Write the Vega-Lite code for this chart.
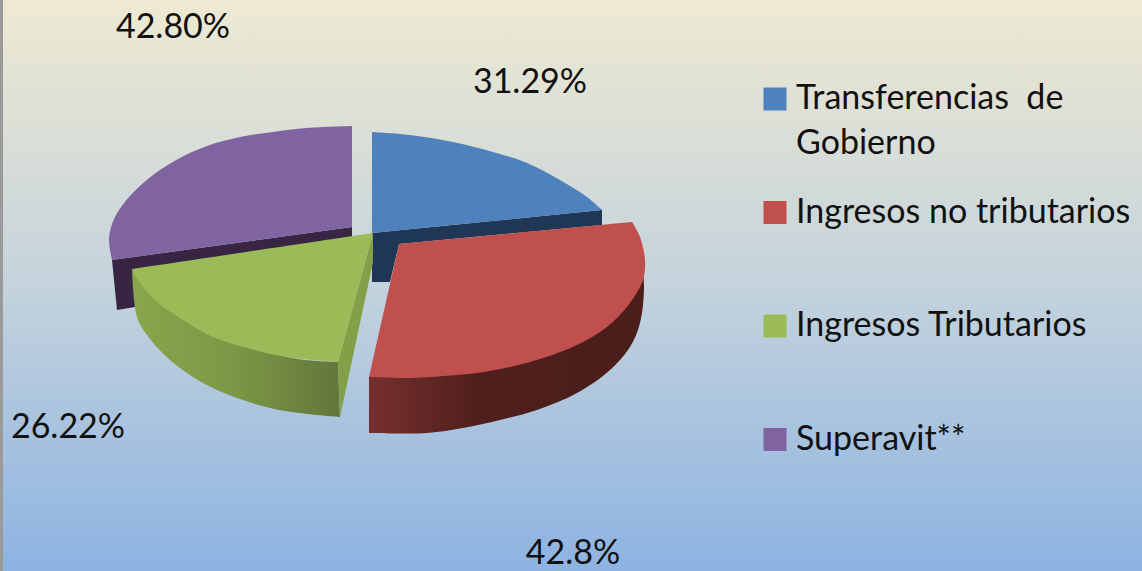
{
"$schema":"https://vega.github.io/schema/vega-lite/v6.json",
"width":1142,"height":571,"padding":0,"autosize":{"type":"none"},
"background":"#cfdbe0",
"config":{"view":{"stroke":null}},
"datasets":{
"page":[{"x":0,"x2":1142,"y":0,"y2":571}],
"edge":[{"x":1.5,"y":0,"y2":571}],
"blueSide":[{"seq":1,"x":602,"y":210},{"seq":2,"x":602,"y":225},{"seq":3,"x":399,"y":244},{"seq":4,"x":390,"y":282},{"seq":5,"x":372,"y":282},{"seq":6,"x":372,"y":233}],
"blueTop":[{"category":"Transferencias de Gobierno","seq":1,"x":372,"y":233},{"category":"Transferencias de Gobierno","seq":2,"x":372,"y":132},{"category":"Transferencias de Gobierno","seq":3,"x":372,"y":132},{"category":"Transferencias de Gobierno","seq":4,"x":410,"y":135},{"category":"Transferencias de Gobierno","seq":5,"x":453,"y":142},{"category":"Transferencias de Gobierno","seq":6,"x":493,"y":152},{"category":"Transferencias de Gobierno","seq":7,"x":527,"y":163},{"category":"Transferencias de Gobierno","seq":8,"x":560,"y":180},{"category":"Transferencias de Gobierno","seq":9,"x":587,"y":197},{"category":"Transferencias de Gobierno","seq":10,"x":602,"y":210}],
"purpleSide":[{"seq":1,"x":352,"y":227},{"seq":2,"x":352,"y":240},{"seq":3,"x":135,"y":272},{"seq":4,"x":135,"y":307},{"seq":5,"x":117,"y":310},{"seq":6,"x":112,"y":260}],
"purpleTop":[{"category":"Superavit**","seq":1,"x":352,"y":227},{"category":"Superavit**","seq":2,"x":352,"y":126},{"category":"Superavit**","seq":3,"x":352,"y":126},{"category":"Superavit**","seq":4,"x":307,"y":128},{"category":"Superavit**","seq":5,"x":273,"y":132},{"category":"Superavit**","seq":6,"x":240,"y":137},{"category":"Superavit**","seq":7,"x":207,"y":146},{"category":"Superavit**","seq":8,"x":180,"y":158},{"category":"Superavit**","seq":9,"x":153,"y":175},{"category":"Superavit**","seq":10,"x":130,"y":196},{"category":"Superavit**","seq":11,"x":115,"y":217},{"category":"Superavit**","seq":12,"x":109,"y":238},{"category":"Superavit**","seq":13,"x":112,"y":260}],
"greenOuter":[{"seq":1,"x":132,"y":269},{"seq":2,"x":137,"y":317},{"seq":3,"x":147,"y":335},{"seq":4,"x":170,"y":360},{"seq":5,"x":203,"y":383},{"seq":6,"x":237,"y":398},{"seq":7,"x":270,"y":408},{"seq":8,"x":307,"y":414},{"seq":9,"x":340,"y":417},{"seq":10,"x":340,"y":417},{"seq":11,"x":338,"y":362},{"seq":12,"x":338,"y":362},{"seq":13,"x":287,"y":357},{"seq":14,"x":180,"y":318}],
"greenInner":[{"seq":1,"x":373,"y":233},{"seq":2,"x":373,"y":262},{"seq":3,"x":340,"y":417},{"seq":4,"x":338,"y":362}],
"greenTop":[{"category":"Ingresos Tributarios","seq":1,"x":373,"y":233},{"category":"Ingresos Tributarios","seq":2,"x":132,"y":269},{"category":"Ingresos Tributarios","seq":3,"x":132,"y":269},{"category":"Ingresos Tributarios","seq":4,"x":140,"y":283},{"category":"Ingresos Tributarios","seq":5,"x":157,"y":302},{"category":"Ingresos Tributarios","seq":6,"x":180,"y":318},{"category":"Ingresos Tributarios","seq":7,"x":213,"y":337},{"category":"Ingresos Tributarios","seq":8,"x":247,"y":348},{"category":"Ingresos Tributarios","seq":9,"x":287,"y":357},{"category":"Ingresos Tributarios","seq":10,"x":338,"y":362}],
"redSide":[{"seq":1,"x":369,"y":377},{"seq":2,"x":369,"y":433},{"seq":3,"x":369,"y":433},{"seq":4,"x":427,"y":433},{"seq":5,"x":463,"y":428},{"seq":6,"x":500,"y":420},{"seq":7,"x":537,"y":410},{"seq":8,"x":577,"y":393},{"seq":9,"x":610,"y":370},{"seq":10,"x":630,"y":347},{"seq":11,"x":640,"y":323},{"seq":12,"x":644,"y":290},{"seq":13,"x":643,"y":270}],
"redTop":[{"category":"Ingresos no tributarios","seq":1,"x":399,"y":244},{"category":"Ingresos no tributarios","seq":2,"x":632,"y":222},{"category":"Ingresos no tributarios","seq":3,"x":632,"y":222},{"category":"Ingresos no tributarios","seq":4,"x":640,"y":237},{"category":"Ingresos no tributarios","seq":5,"x":645,"y":260},{"category":"Ingresos no tributarios","seq":6,"x":643,"y":280},{"category":"Ingresos no tributarios","seq":7,"x":630,"y":303},{"category":"Ingresos no tributarios","seq":8,"x":607,"y":327},{"category":"Ingresos no tributarios","seq":9,"x":577,"y":345},{"category":"Ingresos no tributarios","seq":10,"x":543,"y":358},{"category":"Ingresos no tributarios","seq":11,"x":510,"y":367},{"category":"Ingresos no tributarios","seq":12,"x":477,"y":373},{"category":"Ingresos no tributarios","seq":13,"x":443,"y":376},{"category":"Ingresos no tributarios","seq":14,"x":410,"y":378},{"category":"Ingresos no tributarios","seq":15,"x":369,"y":377}],
"labels":[{"label":"42.80%","x":173,"y":28},{"label":"31.29%","x":530,"y":83},{"label":"26.22%","x":68,"y":428},{"label":"42.8%","x":573,"y":554}]
},
"encoding":{
"x":{"field":"x","type":"quantitative","axis":null,"scale":{"domain":[0,1142],"nice":false,"zero":false}},
"y":{"field":"y","type":"quantitative","axis":null,"scale":{"domain":[571,0],"nice":false,"zero":false}}
},
"resolve":{"scale":{"fill":"shared"}},
"layer":[
{"data":{"name":"page"},"mark":{"type":"rect","color":{"gradient":"linear","x1":0,"y1":0,"x2":0,"y2":1,"stops":[{"offset":0,"color":"#eee9d2"},{"offset":0.5,"color":"#c4d3dc"},{"offset":1,"color":"#8db3e2"}]}},
 "encoding":{"x2":{"field":"x2"},"y2":{"field":"y2"}}},
{"data":{"name":"edge"},"mark":{"type":"rule","color":"#9a9a9a","strokeWidth":3},"encoding":{"y2":{"field":"y2"}}},
{"data":{"name":"blueSide"},"mark":{"type":"line","fill":"#1f3654","stroke":null},"encoding":{"order":{"field":"seq","type":"quantitative"}}},
{"data":{"name":"blueTop"},"mark":{"type":"line","stroke":null,"interpolate":"catmull-rom"},"encoding":{"order":{"field":"seq","type":"quantitative"},"fill":{"field":"category","type":"nominal","scale":{"domain":["Transferencias de Gobierno","Ingresos no tributarios","Ingresos Tributarios","Superavit**"],"range":["#4f81bd","#c0504d","#9bbb59","#8064a2"]},"legend":{"orient":"none","legendX":758,"legendY":82,"title":null,"symbolType":"square","symbolSize":529,"symbolStrokeWidth":0,"labelFont":"Lato","labelFontSize":34,"labelColor":"#111111","labelLimit":400,"labelOffset":4,"gridAlign":"all","rowPadding":34.5,"labelExpr":"datum.label=='Transferencias de Gobierno'?['Transferencias\u00a0\u00a0de','Gobierno']:datum.label","encoding":{"labels":{"lineHeight":{"value":45}}}}}}},
{"data":{"name":"purpleSide"},"mark":{"type":"line","fill":"#382544","stroke":null},"encoding":{"order":{"field":"seq","type":"quantitative"}}},
{"data":{"name":"purpleTop"},"mark":{"type":"line","stroke":null,"interpolate":"catmull-rom"},"encoding":{"order":{"field":"seq","type":"quantitative"},"fill":{"field":"category","type":"nominal"}}},
{"data":{"name":"greenOuter"},"mark":{"type":"line","stroke":null,"interpolate":"catmull-rom","fill":{"gradient":"linear","x1":0,"y1":0,"x2":1,"y2":0,"stops":[{"offset":0,"color":"#88a64c"},{"offset":0.5,"color":"#7c9746"},{"offset":1,"color":"#62763a"}]}},"encoding":{"order":{"field":"seq","type":"quantitative"}}},
{"data":{"name":"greenInner"},"mark":{"type":"line","fill":"#83a048","stroke":null},"encoding":{"order":{"field":"seq","type":"quantitative"}}},
{"data":{"name":"greenTop"},"mark":{"type":"line","stroke":null,"interpolate":"catmull-rom"},"encoding":{"order":{"field":"seq","type":"quantitative"},"fill":{"field":"category","type":"nominal"}}},
{"data":{"name":"redSide"},"mark":{"type":"line","stroke":null,"interpolate":"catmull-rom","fill":{"gradient":"linear","x1":0,"y1":0,"x2":1,"y2":0,"stops":[{"offset":0,"color":"#772f2e"},{"offset":0.4,"color":"#4f1f1c"},{"offset":1,"color":"#4b1e1b"}]}},"encoding":{"order":{"field":"seq","type":"quantitative"}}},
{"data":{"name":"redTop"},"mark":{"type":"line","stroke":null,"interpolate":"catmull-rom"},"encoding":{"order":{"field":"seq","type":"quantitative"},"fill":{"field":"category","type":"nominal"}}},
{"data":{"name":"labels"},"mark":{"type":"text","font":"Lato","fontSize":34,"color":"#111111"},"encoding":{"text":{"field":"label"}}}
]
}
